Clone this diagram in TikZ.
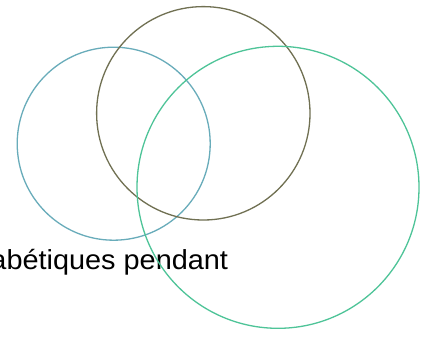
\documentclass[tikz,border=0pt]{standalone}
\usepackage{fontspec}
\setmainfont{Liberation Sans}
\definecolor{cblue}{RGB}{104,172,186}
\definecolor{colive}{RGB}{112,112,82}
\definecolor{cgreen}{RGB}{78,196,152}
\tikzset{ring/.style={draw, line width=1.3pt, circle, inner sep=0pt}}
\begin{document}
\begin{tikzpicture}[x=1pt,y=-1pt]
\useasboundingbox (0,0) rectangle (430,337);
\clip (0,0) rectangle (430,337);
\fill[white] (0,0) rectangle (430,337);
\node[anchor=base east, xscale=1.05, font=\fontsize{27.5}{33}\selectfont, inner sep=0pt] (txt) at (228.3,269) {abétiques pendant};
\node[ring, draw=cblue, minimum size=193pt] (c1) at (113.7,143.7) {};
\node[ring, draw=colive, minimum size=213.4pt] (c2) at (203.3,113.3) {};
\node[ring, draw=cgreen, minimum size=282pt] (c3) at (278,187.3) {};
\end{tikzpicture}
\end{document}
